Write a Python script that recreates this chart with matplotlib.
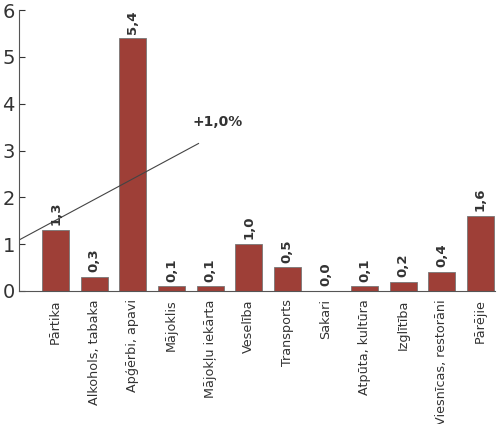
import matplotlib
matplotlib.use("Agg")
import matplotlib.pyplot as plt

categories = ["Pārtika", "Alkohols, tabaka", "Apģērbi, apavi", "Mājoklis", "Mājokļu iekārta",
              "Veselība", "Transports", "Sakari", "Atpūta, kultūra", "Izglītība",
              "Viesnīcas, restorāni", "Pārējie"]
values = [1.3, 0.3, 5.4, 0.1, 0.1, 1.0, 0.5, 0.0, 0.1, 0.2, 0.4, 1.6]
labels = ["1,3", "0,3", "5,4", "0,1", "0,1", "1,0", "0,5", "0,0", "0,1", "0,2", "0,4", "1,6"]
trend_x = [-0.92, 3.7]
trend_y = [1.1, 3.15]

INK = "#333333"
BAR = "#9e3f37"
plt.rcParams["font.family"] = ["DejaVu Sans"]

fig = plt.figure(figsize=(5.0, 4.24), dpi=100)
ax = fig.add_axes([0.038, 0.314, 0.952, 0.662])
x = list(range(len(values)))
ax.bar(x, values, width=0.7, color=BAR, edgecolor="#777777", linewidth=0.6)
for xi, v, t in zip(x, values, labels):
    ax.text(xi, v + 0.1, t, rotation=90, ha="center", va="bottom",
            fontsize=9.5, fontweight="bold", color=INK)
ax.plot(trend_x, trend_y, color="#444444", lw=0.8)
ax.text(3.55, 3.45, "+1,0%", fontsize=10, fontweight="bold", color=INK,
        ha="left", va="bottom")

ax.set_xlim(-0.95, 11.38)
ax.set_ylim(0, 6)
ax.set_yticks(range(7))
ax.tick_params(axis="y", direction="in", length=4, labelsize=14, colors=INK, pad=3)
for lab in ax.get_yticklabels():
    lab.set_family(["Liberation Sans Narrow", "DejaVu Sans"])
ax.set_xticks(x)
ax.set_xticklabels(categories, rotation=90, fontsize=9.2, color=INK)
ax.tick_params(axis="x", length=0, pad=6)
for s in ["top", "right"]:
    ax.spines[s].set_visible(False)
ax.spines["left"].set_color("#555555")
ax.spines["bottom"].set_color("#555555")
fig.savefig("out.png", dpi=100)
